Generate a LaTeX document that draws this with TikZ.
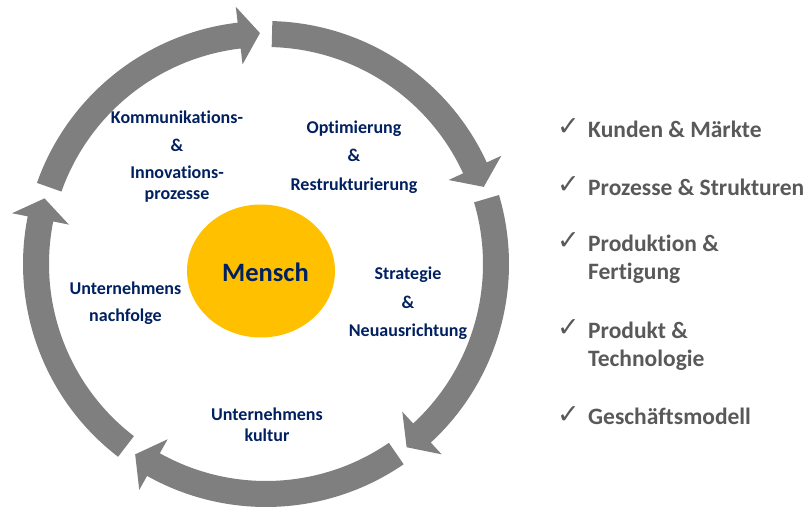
\documentclass[tikz,border=0pt]{standalone}
\usepackage{fontspec}
\setmainfont{Carlito}[Ligatures={NoCommon,NoRare}]
\newfontfamily\symfont{DejaVu Sans}
\usetikzlibrary{shapes.geometric}
\definecolor{arrowgray}{HTML}{7F7F7F}
\definecolor{navy}{HTML}{002060}
\definecolor{listgray}{HTML}{595959}
\definecolor{sun}{HTML}{FFC000}
\tikzset{
  cyclearrow/.style={fill=arrowgray, draw=none},
  lbl/.style={text=navy, font=\bfseries\fontsize{18}{21}\selectfont, align=center, inner sep=0pt, anchor=north},
  item/.style={text=listgray, font=\bfseries\fontsize{23.5}{28}\selectfont, align=left, inner sep=0pt, anchor=north west},
  tick/.style={text=listgray, font=\symfont\fontsize{27}{29}\selectfont, inner sep=0pt, anchor=base west},
}
\begin{document}
\begin{tikzpicture}[x=1pt,y=1pt]
\useasboundingbox (0,0) rectangle (810,511);
\begin{scope}[shift={(266,247)}]
\foreach \t in {160.5, 88.5, 16.5, -55.5, -127.5} {
  \pgfmathsetmacro{\p}{\t-69}
  \pgfmathsetmacro{\h}{\p+5.2}
  \fill[cyclearrow] (\t:243pt) arc[start angle=\t, end angle=\h, radius=243pt] -- (\h:259pt) -- (\p:231pt) -- (\h:201pt) -- (\h:217pt) arc[start angle=\h, end angle=\t, radius=217pt] -- cycle;
}
\end{scope}
\node[ellipse, fill=sun, minimum width=148pt, minimum height=133pt, inner sep=0pt] (core) at (261,240) {};
\node[text=navy, font=\bfseries\fontsize{26.5}{30}\selectfont, inner sep=0pt] (mensch) at (265.5,239) {Mensch};
\node[lbl] (komm) at (177,400) {Kommunikations-\\[7pt]\&\\[6pt]Innovations-\\prozesse};
\node[lbl] (opt) at (354,390) {Optimierung\\[7pt]\&\\[8pt]Restrukturierung};
\node[lbl] (strat) at (408,244) {Strategie\\[8pt]\&\\[7pt]Neuausrichtung};
\node[lbl] (nach) at (125.5,229) {Unternehmens\\[6pt]nachfolge};
\node[lbl] (kultur) at (267,103) {Unternehmens\\kultur};
\node[item] (i1) at (588,390) {Kunden \& Märkte};
\node[item] (i2) at (588,332) {Prozesse \& Strukturen};
\node[item] (i3) at (588,276) {Produktion \&\\Fertigung};
\node[item] (i4) at (588,189) {Produkt \&\\Technologie};
\node[item] (i5) at (588,103) {Geschäftsmodell};
\node[tick] (t1) at (557,375) {✓};
\node[tick] (t2) at (557,317) {✓};
\node[tick] (t3) at (557,261) {✓};
\node[tick] (t4) at (557,174) {✓};
\node[tick] (t5) at (557,88) {✓};
\end{tikzpicture}
\end{document}
